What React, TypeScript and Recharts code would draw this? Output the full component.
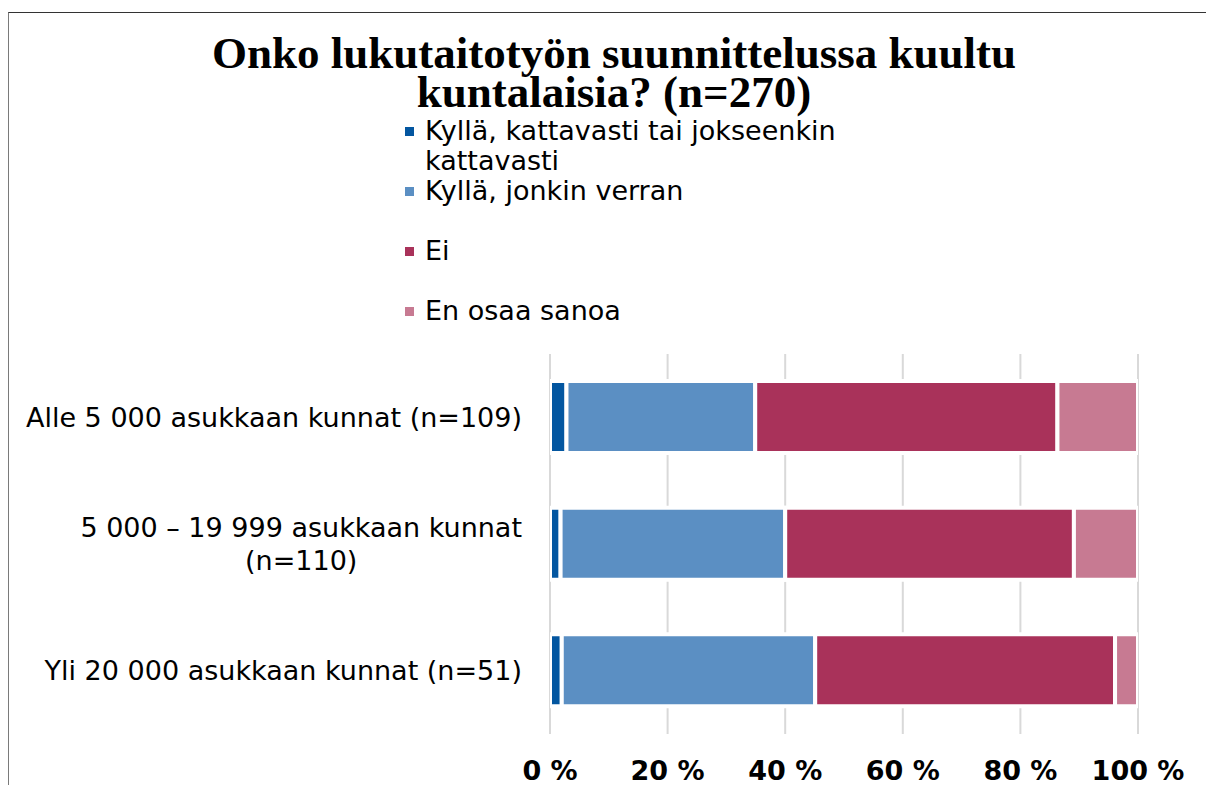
import React from "react";
import { BarChart, Bar, XAxis, YAxis, CartesianGrid, Legend } from "recharts";

const categories = [
  "Alle 5 000 asukkaan kunnat (n=109)",
  "5 000 – 19 999 asukkaan kunnat\n(n=110)",
  "Yli 20 000 asukkaan kunnat (n=51)",
];
const seriesNames = [
  "Kyllä, kattavasti tai jokseenkin kattavasti",
  "Kyllä, jonkin verran",
  "Ei",
  "En osaa sanoa",
];
const kattavasti = [2.8, 1.8, 2.0];
const jonkinVerran = [32.1, 38.2, 43.1];
const ei = [51.4, 49.1, 51.0];
const enOsaa = [13.7, 10.9, 3.9];
const xTicks = [0, 20, 40, 60, 80, 100];
const title = ["Onko lukutaitotyön suunnittelussa kuultu", "kuntalaisia? (n=270)"];

const colors = ["#0356A0", "#5B8FC3", "#A9325A", "#C77A92"];
const keys = ["k1", "k2", "k3", "k4"];

const data = categories.map((name, i) => ({
  name,
  k1: kattavasti[i],
  k2: jonkinVerran[i],
  k3: ei[i],
  k4: enOsaa[i],
}));

const SANS = "'DejaVu Sans', Verdana, sans-serif";

let ctx: CanvasRenderingContext2D | null = null;
function measure(text: string, font: string) {
  if (!ctx) ctx = document.createElement("canvas").getContext("2d");
  if (!ctx) return text.length * 14;
  ctx.font = font;
  return ctx.measureText(text).width;
}

const CategoryTick = (props: any) => {
  const { x, y, payload } = props;
  const lines = String(payload.value).split("\n");
  const fs = 27;
  const lh = 33;
  const font = `${fs}px 'DejaVu Sans'`;
  const widths = lines.map((l) => measure(l, font));
  const maxW = Math.max(...widths);
  const cx = x - maxW / 2;
  const startY = y - ((lines.length - 1) * lh) / 2;
  return (
    <g>
      {lines.map((l, i) => (
        <text
          key={i}
          x={cx}
          y={startY + i * lh}
          dy="0.36em"
          textAnchor="middle"
          fontFamily={SANS}
          fontSize={fs}
          fill="#000"
        >
          {l}
        </text>
      ))}
    </g>
  );
};

const renderLegend = () => (
  <div style={{ fontFamily: SANS, fontSize: 27, lineHeight: "30px", color: "#000", width: 450 }}>
    {seriesNames.map((n, i) => (
      <div key={n} style={{ display: "flex", alignItems: "flex-start", height: 60 }}>
        <div
          style={{
            width: 9,
            height: 9,
            background: colors[i],
            marginTop: 11,
            marginRight: 11,
            flex: "0 0 auto",
          }}
        />
        <div>{n}</div>
      </div>
    ))}
  </div>
);

export default function App() {
  return (
    <div
      style={{
        position: "relative",
        width: 1214,
        height: 793,
        margin: -8,
        overflow: "hidden",
        background: "#fff",
      }}
    >
      <div
        style={{
          position: "absolute",
          left: 8,
          top: 12,
          width: 1400,
          height: 1000,
          borderLeft: "1.5px solid #7a7a7a",
          borderTop: "1px solid #333",
        }}
      />
      <div
        style={{
          position: "absolute",
          left: 0,
          top: 34,
          width: 1228,
          textAlign: "center",
          fontFamily: "'Liberation Serif', 'Times New Roman', serif",
          fontWeight: "bold",
          fontSize: 45,
          lineHeight: "39px",
          color: "#000",
        }}
      >
        {title.map((t) => (
          <div key={t}>{t}</div>
        ))}
      </div>
      <div style={{ position: "absolute", left: 0, top: 0 }}>
        <BarChart
          width={1214}
          height={793}
          data={data}
          layout="vertical"
          margin={{ top: 354, right: 76, bottom: 0, left: 0 }}
          barSize={72}
        >
          <CartesianGrid horizontal={false} stroke="#D9D9D9" strokeWidth={2} />
          <XAxis
            type="number"
            domain={[0, 100]}
            ticks={xTicks}
            tickFormatter={(v: number) => `${v} %`}
            axisLine={false}
            tickLine={false}
            height={59}
            tickSize={0}
            tickMargin={27}
            tick={{ fontFamily: SANS, fontSize: 27, fontWeight: "bold", fill: "#000" }}
            allowDataOverflow
          />
          <YAxis
            type="category"
            dataKey="name"
            width={550}
            axisLine={false}
            tickLine={false}
            tickSize={0}
            tickMargin={28}
            tick={<CategoryTick />}
          />
          <Legend
            layout="vertical"
            align="center"
            verticalAlign="middle"
            content={renderLegend}
            wrapperStyle={{ position: "absolute", left: 405, top: 116, width: 470 }}
          />
          {keys.map((k, i) => (
            <Bar
              key={k}
              dataKey={k}
              name={seriesNames[i]}
              stackId="a"
              fill={colors[i]}
              stroke="#fff"
              strokeWidth={4}
              isAnimationActive={false}
            />
          ))}
        </BarChart>
      </div>
    </div>
  );
}
